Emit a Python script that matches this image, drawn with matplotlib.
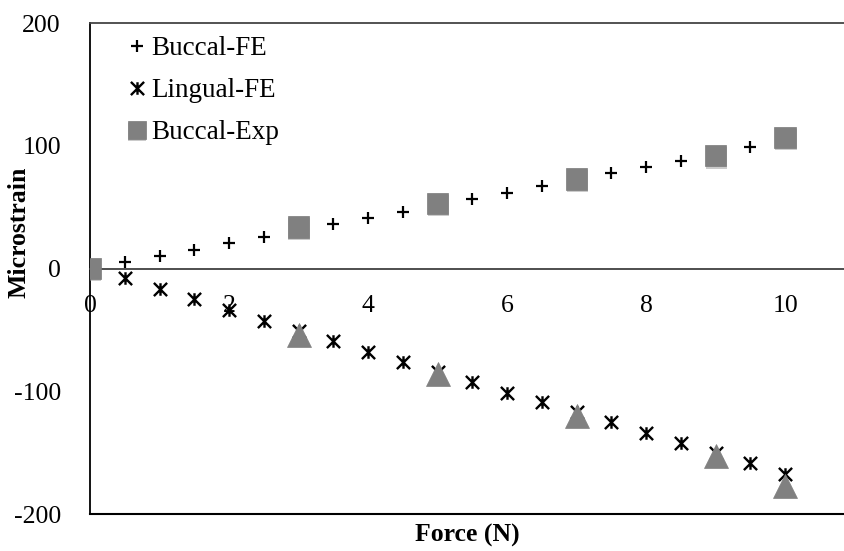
import numpy as np
import matplotlib
matplotlib.use("Agg")
import matplotlib.pyplot as plt
from matplotlib.path import Path
from matplotlib import patheffects as pe

# Force (N) positions for the FE curves and experiment points
force_fe = [0.5, 1, 1.5, 2, 2.5, 3, 3.5, 4, 4.5, 5,
            5.5, 6, 6.5, 7, 7.5, 8, 8.5, 9, 9.5, 10]
buccal_fe = [5, 10, 15.5, 20.5, 26, 31, 36, 41, 46.5, 52,
             57, 62, 67.5, 72.5, 78, 83, 88, 93, 99, 104]
lingual_fe = [-8, -17, -25, -34, -43, -51, -59, -68, -76, -84,
              -92, -101, -109, -117, -125, -134, -142, -150, -158, -167]

force_exp_b = [0, 3, 5, 7, 9, 10]
buccal_exp = [0, 34, 53, 73, 92, 107]
force_exp_l = [3, 5, 7, 9, 10]
lingual_exp = [-54, -86, -120, -153, -177]

x_ticks = [0, 2, 4, 6, 8, 10]
y_ticks = [-200, -100, 0, 100, 200]

plt.rcParams["font.family"] = ["Liberation Serif", "DejaVu Serif"]
plt.rcParams["axes.unicode_minus"] = False
FS = 18.5

# Excel-style "star" marker: an X with a vertical bar
star = Path(
    [(-1, -1), (1, 1), (-1, 1), (1, -1), (0, -0.95), (0, 0.95)],
    [Path.MOVETO, Path.LINETO, Path.MOVETO, Path.LINETO, Path.MOVETO, Path.LINETO],
)

fig = plt.figure(figsize=(8.45, 5.51), dpi=100)
ax = fig.add_axes([0.1065, 0.067, 0.8935, 0.891])

ax.plot(force_fe, buccal_fe, linestyle="none", marker="+", ms=9, mew=1.6,
        color="black", label="Buccal-FE", zorder=3)
ax.plot(force_fe, lingual_fe, linestyle="none", marker=star, ms=9.5, mew=1.7,
        color="black", label="Lingual-FE", zorder=3)
shadow = [pe.SimplePatchShadow(offset=(0.5, -1.5), shadow_rgbFace="#999999", alpha=0.5),
          pe.Normal()]
ax.plot(force_exp_b, buccal_exp, linestyle="none", marker="s", ms=15.5,
        color="#808080", mec="#7a7a7a", mew=0.5, label="Buccal-Exp", zorder=4,
        path_effects=shadow)
ax.plot(force_exp_l, lingual_exp, linestyle="none", marker="^", ms=17,
        color="#808080", mec="#808080", mew=0.5, zorder=4)

ax.set_xlim(0, 10.86)
ax.set_ylim(-200, 200)
ax.set_xticks(x_ticks)
ax.set_yticks(y_ticks)

# x axis crosses at zero, plot-area border kept at the bottom
ax.spines["bottom"].set_position(("data", 0))
ax.spines["bottom"].set_color("#404040")
ax.spines["bottom"].set_linewidth(1.3)
ax.spines["right"].set_visible(False)
ax.spines["top"].set_color("#444444")
ax.spines["top"].set_linewidth(1.3)
ax.spines["left"].set_linewidth(1.3)
ax.plot([0, 1], [0, 0], transform=ax.transAxes, color="black", lw=1.5,
        clip_on=False)

ax.tick_params(axis="x", length=0, pad=19, labelsize=FS)
ax.tick_params(axis="y", length=0, pad=21, labelsize=FS)

ax.set_xlabel("Force (N)", fontsize=FS, fontweight="bold")
ax.set_ylabel("Microstrain", fontsize=FS, fontweight="bold")
ax.xaxis.set_label_coords(0.5, -0.02)
ax.yaxis.set_label_coords(-0.079, 0.574)

leg = ax.legend(loc="upper left", bbox_to_anchor=(0.033, 0.995), frameon=False,
                fontsize=FS + 1, handlelength=0.8, handletextpad=0.15,
                labelspacing=0.62, borderaxespad=0)
leg.legend_handles[2].set_markersize(13)

fig.savefig("out.png", dpi=100)
